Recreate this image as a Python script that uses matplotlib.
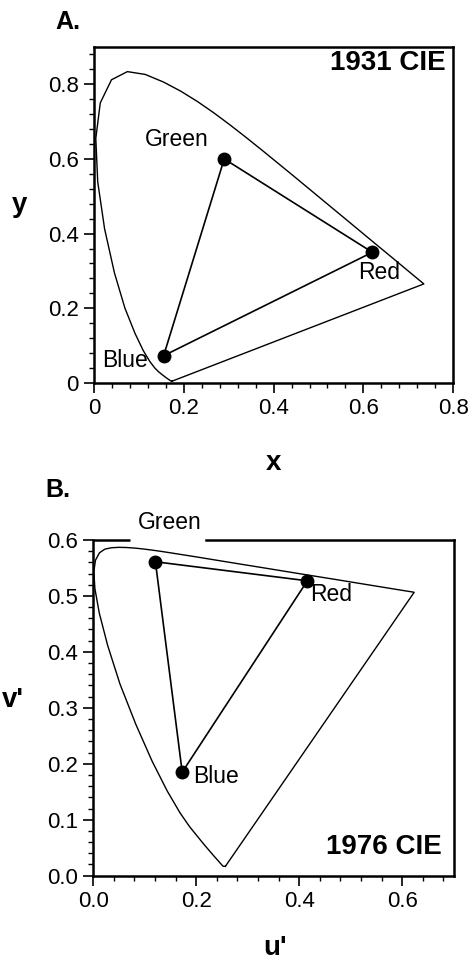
import numpy as np
import matplotlib
matplotlib.use("Agg")
import matplotlib.pyplot as plt
from matplotlib.ticker import MultipleLocator, FormatStrFormatter

plt.rcParams['font.family'] = ['Liberation Sans', 'DejaVu Sans']

# spectral locus, CIE 1931 (x, y)
locus_x = [0.1741, 0.1714, 0.1644, 0.1566, 0.1440, 0.1355, 0.1241, 0.1096,
           0.0913, 0.0687, 0.0454, 0.0235, 0.0082, 0.0039, 0.0139, 0.0389,
           0.0743, 0.1142, 0.1547, 0.1929, 0.2296, 0.2658, 0.3016, 0.3373,
           0.3731, 0.4441, 0.5125, 0.5752, 0.6270, 0.6658, 0.6915, 0.7190,
           0.7347]
locus_y = [0.0050, 0.0051, 0.0109, 0.0177, 0.0297, 0.0399, 0.0578, 0.0868,
           0.1327, 0.2007, 0.2950, 0.4127, 0.5384, 0.6548, 0.7502, 0.8120,
           0.8338, 0.8262, 0.8059, 0.7816, 0.7543, 0.7243, 0.6923, 0.6589,
           0.6245, 0.5547, 0.4866, 0.4242, 0.3725, 0.3340, 0.3083, 0.2809,
           0.2653]

# spectral locus, CIE 1976 (u', v')
locus_u = [0.2568, 0.2522, 0.2347, 0.2161, 0.1877, 0.1690, 0.1441, 0.1147,
           0.0828, 0.0521, 0.0282, 0.0119, 0.0035, 0.0014, 0.0046, 0.0123,
           0.0231, 0.0360, 0.0501, 0.0643, 0.0792, 0.0953, 0.1127, 0.1319,
           0.1531, 0.2026, 0.2623, 0.3315, 0.4035, 0.4692, 0.5203, 0.5830,
           0.6234]
locus_v = [0.0166, 0.0169, 0.0350, 0.0549, 0.0871, 0.1119, 0.1510, 0.2044,
           0.2708, 0.3427, 0.4117, 0.4698, 0.5131, 0.5432, 0.5638, 0.5770,
           0.5837, 0.5861, 0.5868, 0.5865, 0.5856, 0.5841, 0.5821, 0.5796,
           0.5766, 0.5694, 0.5604, 0.5501, 0.5393, 0.5296, 0.5219, 0.5125,
           0.5065]

# display primaries (Green, Red, Blue)
prim_names = ['Green', 'Red', 'Blue']
prim_x = [0.29, 0.62, 0.155]
prim_y = [0.60, 0.35, 0.073]
prim_u = [0.121, 0.416, 0.173]
prim_v = [0.561, 0.527, 0.185]

TICK_FS = 16
LBL_FS = 16.5
CIE_FS = 20
AX_FS = 20

fig = plt.figure(figsize=(4.75, 9.63), dpi=100)


def style_axes(ax, xmaj, xmin, ymaj, ymin):
    ax.xaxis.set_major_locator(MultipleLocator(xmaj))
    ax.xaxis.set_minor_locator(MultipleLocator(xmin))
    ax.yaxis.set_major_locator(MultipleLocator(ymaj))
    ax.yaxis.set_minor_locator(MultipleLocator(ymin))
    ax.xaxis.set_major_formatter(FormatStrFormatter('%.1f'))
    ax.yaxis.set_major_formatter(FormatStrFormatter('%.1f'))
    ax.tick_params(which='major', direction='out', length=7, width=1.2,
                   labelsize=TICK_FS, pad=4)
    ax.tick_params(which='minor', direction='out', length=3.5, width=1.0)
    for s in ax.spines.values():
        s.set_linewidth(1.8)


# ---- A: 1931 CIE ----
ax1 = fig.add_axes([0.198, 0.6023, 0.756, 0.349])
ax1.plot(locus_x + [locus_x[0]], locus_y + [locus_y[0]], color='black', lw=1.0)
ax1.plot(prim_x + [prim_x[0]], prim_y + [prim_y[0]], color='black', lw=1.2,
         marker='o', ms=9, markevery=[0, 1, 2])
ax1.set_xlim(0, 0.8)
ax1.set_ylim(0, 0.9)
style_axes(ax1, 0.2, 0.04, 0.2, 0.04)
ax1.set_xticks([0, 0.2, 0.4, 0.6, 0.8])
ax1.set_xticklabels(['0', '0.2', '0.4', '0.6', '0.8'])
ax1.set_yticks([0, 0.2, 0.4, 0.6, 0.8])
ax1.set_yticklabels(['0', '0.2', '0.4', '0.6', '0.8'])
ax1.text(0.184, 0.651, 'Green', fontsize=LBL_FS, ha='center', va='center')
ax1.text(0.635, 0.295, 'Red', fontsize=LBL_FS, ha='center', va='center')
ax1.text(0.069, 0.061, 'Blue', fontsize=LBL_FS, ha='center', va='center')
ax1.text(0.98, 0.951, '1931 CIE', transform=ax1.transAxes, fontsize=CIE_FS,
         fontweight='bold', ha='right', va='center')

fig.text(0.116, 0.9775, 'A.', fontsize=18, fontweight='bold', ha='left', va='center')
fig.text(0.042, 0.787, 'y', fontsize=AX_FS, fontweight='bold', ha='center', va='center')
fig.text(0.575, 0.519, 'x', fontsize=AX_FS, fontweight='bold', ha='center', va='center')

# ---- B: 1976 CIE ----
ax2 = fig.add_axes([0.196, 0.0907, 0.759, 0.3486])
ax2.plot(locus_u + [locus_u[0]], locus_v + [locus_v[0]], color='black', lw=1.0)
ax2.plot(prim_u + [prim_u[0]], prim_v + [prim_v[0]], color='black', lw=1.2,
         marker='o', ms=9, markevery=[0, 1, 2])
ax2.set_xlim(0, 0.7)
ax2.set_ylim(0, 0.6)
style_axes(ax2, 0.2, 0.04, 0.1, 0.02)
# top frame broken where the Green label sits
ax2.spines['top'].set_visible(False)
ax2.plot([0, 0.102], [1, 1], transform=ax2.transAxes, color='black',
         lw=1.8, clip_on=False, solid_capstyle='butt')
ax2.plot([0.314, 1], [1, 1], transform=ax2.transAxes, color='black',
         lw=1.8, clip_on=False, solid_capstyle='projecting')
ax2.text(0.149, 0.632, 'Green', fontsize=LBL_FS, ha='center', va='center')
ax2.text(0.462, 0.503, 'Red', fontsize=LBL_FS, ha='center', va='center')
ax2.text(0.239, 0.178, 'Blue', fontsize=LBL_FS, ha='center', va='center')
ax2.text(0.966, 0.086, '1976 CIE', transform=ax2.transAxes, fontsize=CIE_FS,
         fontweight='bold', ha='right', va='center')

fig.text(0.095, 0.491, 'B.', fontsize=18, fontweight='bold', ha='left', va='center')
fig.text(0.028, 0.273, "v'", fontsize=AX_FS, fontweight='bold', ha='center', va='center')
fig.text(0.579, 0.0155, "u'", fontsize=AX_FS, fontweight='bold', ha='center', va='center')

fig.savefig('out.png', dpi=100)
